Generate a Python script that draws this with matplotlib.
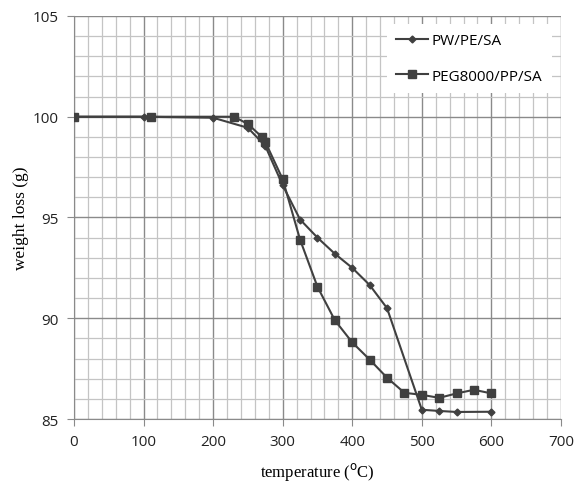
import matplotlib

matplotlib.use("Agg")
import matplotlib.pyplot as plt
from matplotlib.ticker import MultipleLocator

# ==========================================================
# Data
# ==========================================================

PW_TEMP = [0, 100, 200, 250, 275, 300, 325, 350, 375, 400, 425, 450, 500, 525, 550, 600]
PW_WEIGHT = [100, 100, 99.95, 99.45, 98.55, 96.6, 94.9, 94.0, 93.2, 92.5, 91.65, 90.5,
             85.46, 85.4, 85.35, 85.36]

PEG_TEMP = [0, 110, 230, 250, 270, 275, 300, 325, 350, 375, 400, 425, 450, 475, 500,
            525, 550, 575, 600]
PEG_WEIGHT = [100, 100, 100, 99.64, 99.0, 98.75, 96.9, 93.9, 91.56, 89.9, 88.8, 87.95,
              87.05, 86.3, 86.2, 86.05, 86.27, 86.45, 86.27]

LINE_COLOR = "#404040"


def main():
    fig = plt.figure(figsize=(5.79, 4.85), dpi=100)
    ax = fig.add_axes([0.1278, 0.134, 0.841, 0.831])

    ax.plot(PW_TEMP, PW_WEIGHT, color=LINE_COLOR, lw=1.5, marker="D",
            markersize=3.5, label="PW/PE/SA", zorder=3)
    ax.plot(PEG_TEMP, PEG_WEIGHT, color=LINE_COLOR, lw=1.5, marker="s",
            markersize=5.5, label="PEG8000/PP/SA", zorder=3)

    ax.set_xlim(0, 700)
    ax.set_ylim(85, 105)
    ax.xaxis.set_major_locator(MultipleLocator(100))
    ax.xaxis.set_minor_locator(MultipleLocator(20))
    ax.yaxis.set_major_locator(MultipleLocator(5))
    ax.yaxis.set_minor_locator(MultipleLocator(1))

    ax.grid(which="major", color="#8a8a8a", lw=1.0)
    ax.grid(which="minor", color="#c4c4c4", lw=0.9)
    ax.set_axisbelow(True)

    for side in ["top", "right"]:
        ax.spines[side].set_visible(False)
    for side in ["left", "bottom"]:
        ax.spines[side].set_color("#8a8a8a")

    ax.tick_params(which="major", length=5, color="#8a8a8a", labelsize=11,
                   labelcolor="#222222", pad=6)
    ax.tick_params(which="minor", length=0)
    for lab in ax.get_xticklabels() + ax.get_yticklabels():
        lab.set_fontfamily("Open Sans")

    ax.set_xlabel("temperature ($^{\\mathrm{o}}$C)", family="Liberation Serif",
                  fontsize=12, labelpad=8)
    ax.set_ylabel("weight loss (g)", family="Liberation Serif", fontsize=12.5,
                  labelpad=3)

    # white box, no border, as in the reference
    leg = ax.legend(loc="upper right", bbox_to_anchor=(0.981, 0.98),
                    prop={"family": "Open Sans", "size": 11},
                    frameon=True, fancybox=False, edgecolor="none",
                    handlelength=2.1, handletextpad=0.25, labelspacing=1.35,
                    borderpad=0.6, borderaxespad=0)
    leg.get_frame().set_facecolor("white")
    leg.get_frame().set_alpha(1)

    fig.savefig("out.png", dpi=100)
    plt.close(fig)


if __name__ == "__main__":
    main()
